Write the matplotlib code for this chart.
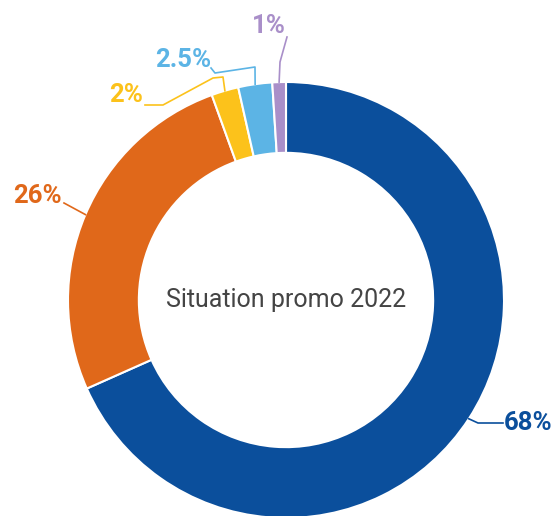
import numpy as np
import matplotlib
matplotlib.use("Agg")
import matplotlib.pyplot as plt

plt.rcParams['font.family'] = ['Roboto', 'DejaVu Sans']

# data
labels = ['68%', '26%', '2%', '2.5%', '1%']
values = [68, 26, 2, 2.5, 1]
colors = ['#0b4f9c', '#e0681a', '#fcc21b', '#5cb4e5', '#a98fc9']
center_text = 'Situation promo 2022'

# layout (pixels)
W, H = 557, 516
CX, CY, R = 286, 300, 218

def px(x, y):
    return (x - CX) / R, (CY - y) / R

fig = plt.figure(figsize=(W / 100, H / 100), dpi=100)
ax = fig.add_axes([0, 0, 1, 1])
wedges, _ = ax.pie(values, colors=colors, startangle=90, counterclock=False,
                   radius=1, wedgeprops=dict(width=0.325, edgecolor='white', linewidth=1.5))
ax.set_xlim(-CX / R, (W - CX) / R)
ax.set_ylim(-(H - CY) / R, CY / R)
ax.set_aspect('auto')
ax.axis('off')

# leader line elbows and text spots, in pixels
paths = [
    [(478, 423), (503, 423)],
    [(64, 203)],
    [(223, 77), (213, 78), (163, 105), (145, 105)],
    [(255, 67), (215, 73), (211, 68)],
    [(280, 62), (287, 37)],
]
text_pos = [(504, 423, 'left'), (62, 196, 'right'), (143, 95, 'right'),
            (211, 60, 'right'), (269, 26, 'center')]

for w, lab, col, path, (tx, ty, ha) in zip(wedges, labels, colors, paths, text_pos):
    mid = np.deg2rad((w.theta1 + w.theta2) / 2)
    pts = [(np.cos(mid), np.sin(mid))] + [px(*p) for p in path]
    xs, ys = zip(*pts)
    ax.plot(xs, ys, color=col, lw=1.2, solid_joinstyle='round')
    x, y = px(tx, ty)
    ax.text(x, y, lab, color=col, fontsize=18.5, fontweight='bold', ha=ha, va='center')

ax.text(0, 0, center_text, color='#444444', fontsize=18, ha='center', va='center')

fig.savefig('out.png', dpi=100)
